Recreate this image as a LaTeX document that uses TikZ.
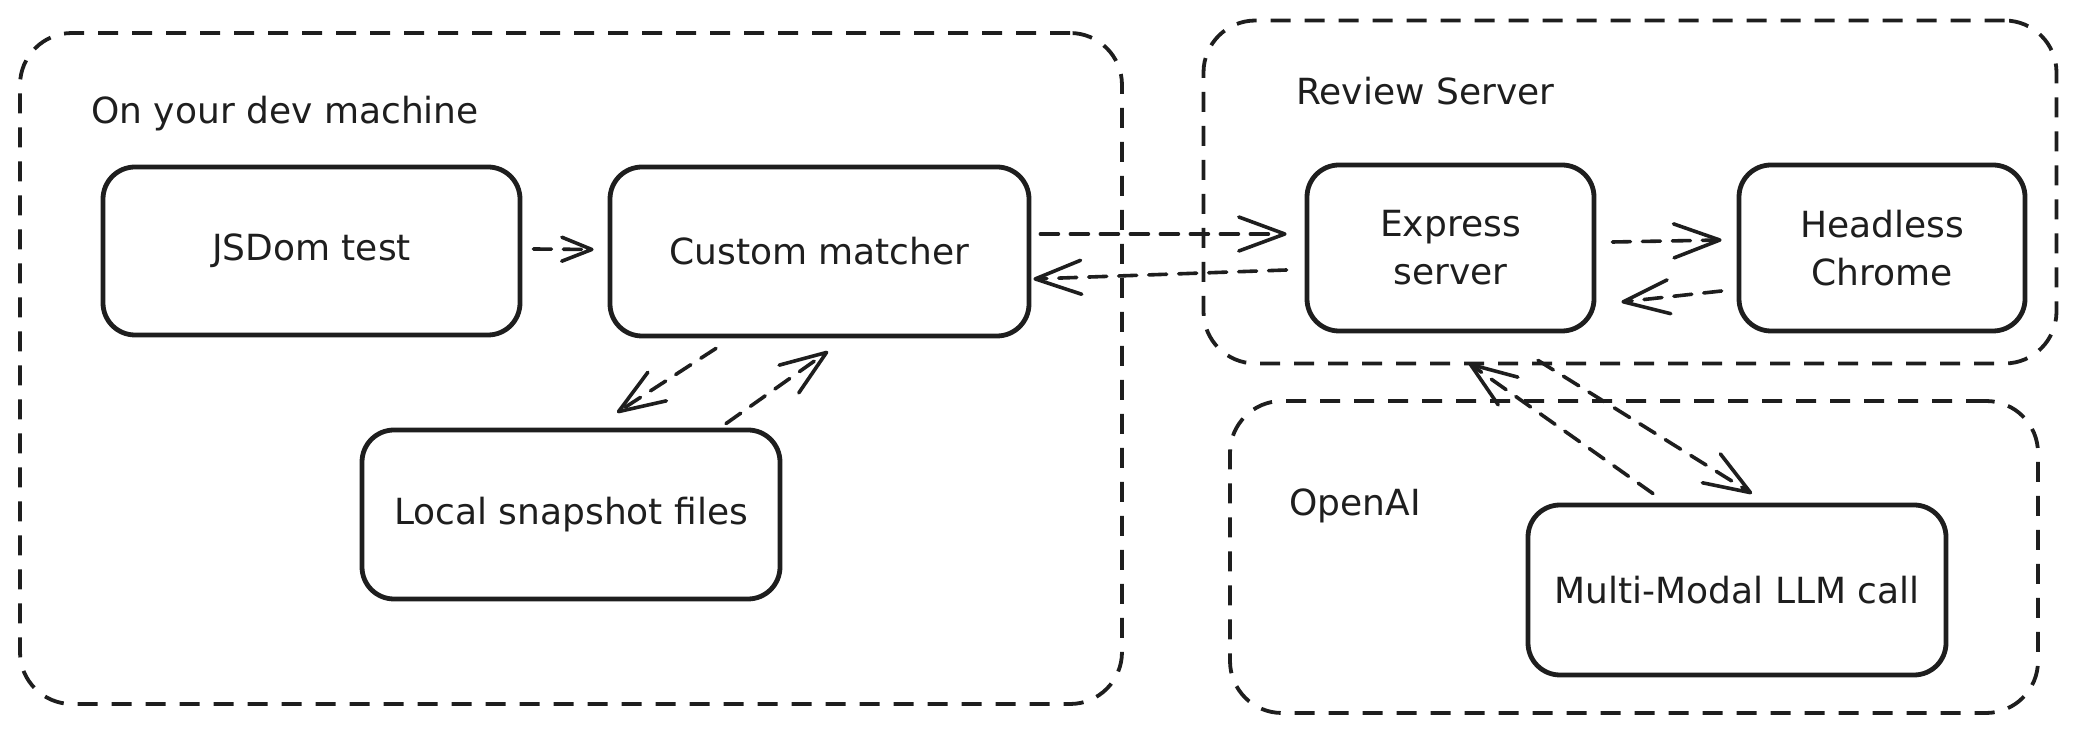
\documentclass[tikz,border=0pt]{standalone}
\usepackage{fontspec}
\setmainfont{DejaVu Sans}
\usetikzlibrary{arrows.meta}
\definecolor{ink}{HTML}{1E1E1E}
\begin{document}
\begin{tikzpicture}[x=0.5pt,y=-0.5pt,
  txt/.style={font=\fontsize{18}{24}\selectfont, text=ink},
  box/.style={txt, draw=ink, line width=2.4pt, rounded corners=16pt, fill=white, align=center, inner sep=0pt},
  group/.style={draw=ink, line width=1.9pt, dash pattern=on 10pt off 7pt, rounded corners=26pt, inner sep=0pt},
  lbl/.style={txt, anchor=west, inner sep=0pt},
  conn/.style={draw=ink, line width=1.8pt, dash pattern=on 9pt off 6pt, line cap=round,
    -{Straight Barb[length=23pt,width=17pt,round]}},
  small/.style={-{Straight Barb[length=15pt,width=12pt,round]}},
]
\useasboundingbox (0,0) rectangle (2074,731);

% groups
\node[group, minimum width=551pt, minimum height=335.5pt] (dev) at (571,368.5) {};
\node[group, minimum width=426.5pt, minimum height=171.5pt] (review) at (1630,192) {};
\node[group, minimum width=404pt, minimum height=156pt] (openai) at (1634,557) {};

% group labels
\node[lbl] (devlbl) at (91,114) {On your dev machine};
\node[lbl] (reviewlbl) at (1296,91) {Review Server};
\node[lbl] (openailbl) at (1289,506) {OpenAI};

% boxes
\node[box, minimum width=208.5pt, minimum height=84pt] (jsdom) at (311.5,251) {JSDom test};
\node[box, minimum width=209.5pt, minimum height=84.5pt] (custom) at (819.5,251.5) {Custom matcher};
\node[box, minimum width=209pt, minimum height=84.5pt] (snap) at (571,514.5) {Local snapshot files};
\node[box, minimum width=143.5pt, minimum height=83pt] (express) at (1450.5,248) {Express\\server};
\node[box, minimum width=143pt, minimum height=83pt] (headless) at (1882,248) {Headless\\Chrome};
\node[box, minimum width=209pt, minimum height=85pt] (multi) at (1737,590) {Multi-Modal LLM call};

% connectors
\draw[conn, small] ([xshift=5.5pt,yshift=1pt]jsdom.east) -- ([xshift=-7pt,yshift=1pt]custom.west);
\draw[conn] ([xshift=4.5pt,yshift=8.75pt]custom.east) -- ([xshift=-9pt,yshift=7pt]express.west);
\draw[conn] ([xshift=-9pt,yshift=-11pt]express.west) -- ([xshift=1pt,yshift=-13.75pt]custom.east);
\draw[conn] ([xshift=8pt,yshift=3pt]express.east) -- ([xshift=-7.5pt,yshift=4pt]headless.west);
\draw[conn] ([xshift=-7.5pt,yshift=-21.5pt]headless.west) -- ([xshift=12.5pt,yshift=-27pt]express.east);
\draw[conn] ([xshift=-51.75pt,yshift=-5pt]custom.south) -- ([xshift=23pt,yshift=7.5pt]snap.north);
\draw[conn] ([xshift=77.5pt,yshift=2pt]snap.north) -- ([xshift=4.25pt,yshift=-6.5pt]custom.south);
\draw[conn] ([xshift=-42pt,yshift=4.5pt]multi.north) -- ([xshift=9.25pt,yshift=-15pt]express.south);
\draw[conn] ([xshift=43.75pt,yshift=-13.5pt]express.south) -- ([xshift=7.5pt,yshift=4.5pt]multi.north);
\end{tikzpicture}
\end{document}
